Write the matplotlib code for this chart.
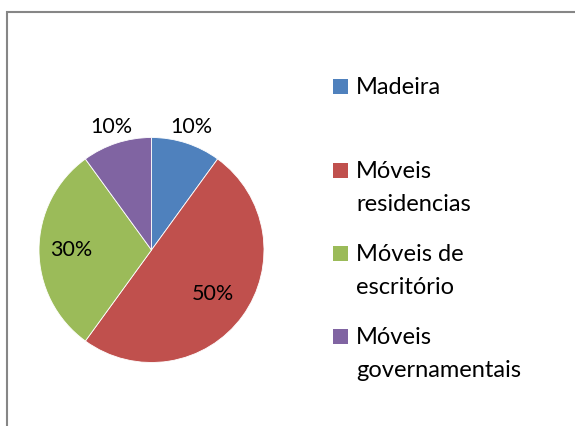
import matplotlib
matplotlib.use("Agg")
import matplotlib.pyplot as plt
from matplotlib.patches import Rectangle
import numpy as np

categories = ["Madeira", "Móveis\nresidencias", "Móveis de\nescritório", "Móveis\ngovernamentais"]
values = [10, 50, 30, 10]
colors = ["#4F81BD", "#C0504D", "#9BBB59", "#8064A2"]
label_radius = [1.15, 0.67, 0.71, 1.15]

W, H = 575, 426
DPI = 100
FONT = "Lato"

fig = plt.figure(figsize=(W / DPI, H / DPI), dpi=DPI)
fig.patch.set_facecolor("white")

def fx(px):
    return px / W

def fy(py):
    return 1 - py / H

# chart frame (partly cut off at right and bottom)
fig.add_artist(Rectangle((fx(7), -0.1), 1.2, fy(12) + 0.1, transform=fig.transFigure,
                         fill=False, edgecolor="#868686", linewidth=1.5))

cx, cy, r = 151.5, 250, 112.5
ax = fig.add_axes([fx(cx - r), fy(cy + r), 2 * r / W, 2 * r / H])
wedges, _ = ax.pie(values, colors=colors, startangle=90, counterclock=False,
                   radius=1, wedgeprops=dict(edgecolor="white", linewidth=0.6))
ax.set_xlim(-1, 1)
ax.set_ylim(-1, 1)
ax.set_aspect("equal")
ax.axis("off")

total = sum(values)
for w, v, rad in zip(wedges, values, label_radius):
    ang = np.deg2rad((w.theta1 + w.theta2) / 2)
    ax.text(rad * np.cos(ang), rad * np.sin(ang), f"{v / total * 100:.0f}%",
            ha="center", va="center", fontsize=15.5, family=FONT, color="black",
            clip_on=False)

# legend
sq_top = [79, 163, 246, 329]
first_base = [94.3, 177.7, 261, 344.3]
line_h = 33
for lab, col, st, fb in zip(categories, colors, sq_top, first_base):
    fig.add_artist(Rectangle((fx(333), fy(st + 14.5)), 14.5 / W, 14.5 / H,
                             transform=fig.transFigure, facecolor=col, edgecolor="none"))
    for i, line in enumerate(lab.split("\n")):
        fig.text(fx(356), fy(fb + i * line_h), line, ha="left", va="baseline",
                 fontsize=17, family=FONT, color="black")

fig.savefig("out.png", dpi=DPI)
